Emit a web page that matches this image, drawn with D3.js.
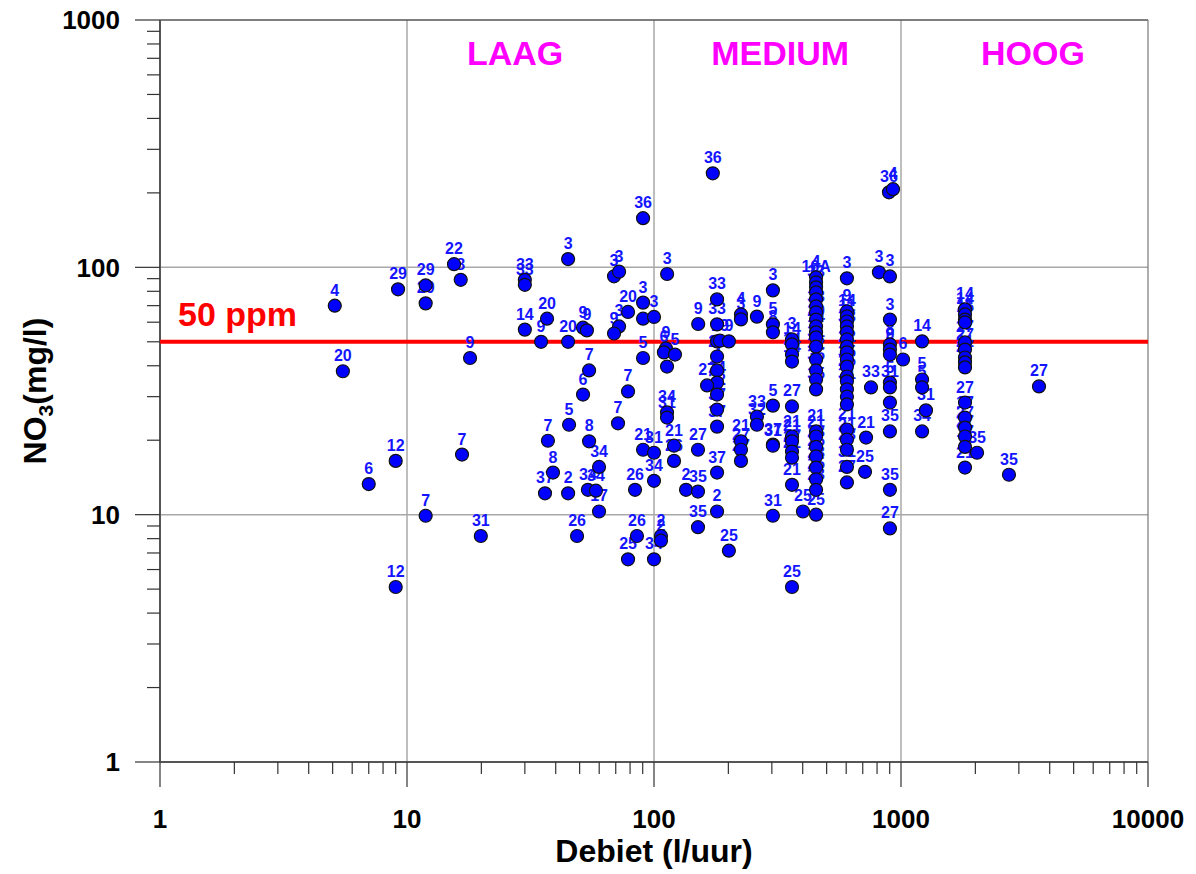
<!DOCTYPE html>
<html>
<head>
<meta charset="utf-8">
<script src="https://cdn.jsdelivr.net/npm/d3@7"></script>
<style>
  html, body { margin: 0; padding: 0; background: #fff; }
  svg { display: block; font-family: "Liberation Sans", Arial, sans-serif; }
</style>
</head>
<body>
<svg id="chart" width="1196" height="874"></svg>
<script>
// Debiet (l/uur) per meting
const debiet = [
  5.1, 5.5, 7.0, 9.0, 9.0, 9.2, 11.9, 11.9, 16.7, 11.9, 19.9, 15.5, 16.5, 18, 30, 30, 30, 34.9, 36.9, 44.9,
  44.9, 51.6, 53.5, 68.9, 72.2, 78.5, 90.3, 90.3, 100, 72.2, 68.9, 90.3, 173, 113, 151, 90.3, 54.6, 111.8, 109.7, 121.6,
  112.9, 51.6, 78.5, 45.3, 71.5, 37.2, 54.6, 59.9, 39.0, 36.2, 44.9, 54.0, 58.2, 59.9, 48.8, 85.3, 83.8, 90.3, 100, 100,
  112.9, 112.9, 120.5, 120.5, 150.7, 134.8, 150.7, 150.7, 106.7, 106.7, 78.5, 100,
  180, 180, 180, 185, 201, 180, 180, 180, 164, 180, 180, 180, 180, 180, 201,
  225, 225, 261, 303, 303, 303, 362, 362, 362, 362, 261, 261, 303, 362, 225, 225, 225, 303, 303,
  362, 362, 362, 362, 362, 303, 401, 362,
  453, 453, 453, 453, 453, 453, 453, 453, 453, 453, 453, 453, 453, 453, 453, 453, 453, 453, 453, 453, 453, 453, 453, 453,
  604, 604, 604, 604, 604, 604, 604, 604, 604, 604, 604, 604, 604, 604, 604, 604, 604, 604, 604, 604, 604,
  756, 722, 715, 814, 894, 928, 902, 902, 902, 902, 902, 902, 902, 902, 902, 902, 902, 1019,
  1217, 1217, 1217, 1262, 1217,
  1816, 1816, 1816, 1816, 1816, 1816, 1816, 1816, 1816, 1816, 1816, 1816, 1816, 1816, 1816,
  2032, 2736, 3620
];

// Nitraatgehalte NO3 (mg/l) per meting
const nitraat = [
  70, 38, 13.3, 16.5, 5.1, 81.5, 84.6, 71.5, 17.5, 9.9, 8.2, 103, 89, 43, 89, 85, 56, 50, 62, 50,
  108, 57, 55.6, 92, 96, 66, 72, 62, 63, 57.7, 54, 158, 240, 94, 59, 43, 38.3, 47, 45.3, 44.4,
  39.7, 30.6, 31.5, 23.1, 23.4, 19.9, 19.8, 15.6, 14.8, 12.2, 12.2, 12.6, 12.5, 10.3, 8.2, 8.2, 12.6, 18.3, 17.8, 13.7,
  25.9, 24.7, 19.0, 16.5, 18.3, 12.6, 12.4, 8.9, 8.2, 7.85, 6.6, 6.6,
  74.2, 58.8, 50.2, 50.5, 50.2, 43.6, 38.3, 34.2, 33.3, 30.6, 26.6, 22.7, 14.8, 10.3, 7.15,
  64.5, 61.6, 63.2, 80.7, 58.8, 54.6, 51.1, 48.8, 44.4, 41.6, 24.9, 23.1, 27.6, 27.4, 19.8, 18.3, 16.5, 19.2, 19.0,
  20.7, 19.8, 18.0, 17.0, 13.2, 9.9, 10.3, 5.1,
  91.1, 86.9, 83, 79.2, 74.2, 69.5, 65.7, 61.5, 57.7, 54.6, 52.1, 47.8, 42.4, 38.3, 35.2, 32.1, 21.7, 20.7, 18.8, 17.2, 15.5, 13.9, 12.6, 10.0,
  90.3, 66.3, 63.3, 60.4, 57.7, 54.6, 51.1, 47.8, 45.3, 42.4, 39.7, 36.2, 34.6, 32.1, 30.0, 27.9, 22.1, 20.1, 18.3, 15.6, 13.5,
  32.7, 20.5, 14.9, 95.5, 201, 207, 91.9, 61.5, 48.8, 46.5, 44.4, 34.2, 32.7, 28.4, 21.7, 12.6, 8.8, 42.4,
  50.2, 35.2, 32.7, 26.4, 21.7,
  67.6, 64.5, 61.5, 59.9, 49.7, 46.5, 43.2, 41.3, 39.4, 28.4, 24.7, 22.5, 20.7, 18.8, 15.5,
  17.8, 14.5, 33.0
];

// Putnummer bij elke meting
const putnummer = [
  "4", "20", "6", "12", "12", "29", "29", "29", "7", "7", "31", "22", "8", "9", "33", "33", "14", "9", "20", "20",
  "3", "9", "9", "3", "3", "20", "3", "3", "3", "3", "9", "36", "36", "3", "9", "5", "7", "9", "6", "5",
  "5", "6", "7", "5", "7", "7", "8", "34", "8", "37", "2", "34", "34", "17", "26", "26", "26", "21", "31", "34",
  "34", "31", "21", "26", "27", "2", "35", "35", "2", "2", "25", "34",
  "33", "33", "6", "19", "9", "28", "4", "24", "27", "32", "37", "37", "37", "2", "25",
  "4", "3", "9", "3", "5", "8", "3", "14", "14", "14", "33", "32", "5", "27", "21", "27", "27", "37", "31",
  "21", "21", "27", "21", "21", "31", "25", "25",
  "4", "16A", "33", "3", "9", "3", "33", "5", "20", "14", "9", "31", "32", "35", "3", "35", "21", "21", "23", "25", "23", "25", "23", "25",
  "3", "9", "14", "11", "2", "33", "9", "1", "22", "2", "35", "25", "3", "31", "1", "5", "21", "21", "23", "31", "27",
  "33", "21", "25", "3", "36", "4", "3", "3", "8", "9", "5", "5", "31", "5", "35", "35", "27", "6",
  "14", "5", "5", "31", "34",
  "14", "14", "11", "15", "27", "27", "21", "27", "2", "27", "17", "27", "27", "17", "21",
  "35", "35", "27"
];

// Debietklassen en het debiet waarboven hun naam staat
const klassen = ["LAAG", "MEDIUM", "HOOG"];
const klasseMidden = [27.4, 324, 3420];

const norm = 50;           // nitraatnorm (mg/l)
const normLabel = "50 ppm";

const xTicks = [1, 10, 100, 1000, 10000];
const yTicks = [1, 10, 100, 1000];

const margin = { left: 160, right: 48, top: 20, bottom: 112 };
const W = 1196, H = 874;

const svg = d3.select("#chart");

const x = d3.scaleLog().domain([1, 10000]).range([margin.left, W - margin.right]);
const y = d3.scaleLog().domain([1, 1000]).range([H - margin.bottom, margin.top]);

const x0 = x.range()[0], x1 = x.range()[1];
const y0 = y.range()[0], y1 = y.range()[1];

const ink = "#333";
const grid = "#a8a8a8";

// Rasterlijnen op de decaden
svg.append("g").selectAll("line.gx")
  .data(xTicks.slice(1, -1)).join("line")
  .attr("x1", d => x(d)).attr("x2", d => x(d))
  .attr("y1", y1).attr("y2", y0)
  .attr("stroke", grid).attr("stroke-width", 1.5);

svg.append("g").selectAll("line.gy")
  .data(yTicks.slice(1, -1)).join("line")
  .attr("x1", x0).attr("x2", x1)
  .attr("y1", d => y(d)).attr("y2", d => y(d))
  .attr("stroke", grid).attr("stroke-width", 1.5);

// Kader
svg.append("line").attr("x1", x0).attr("x2", x1).attr("y1", y1).attr("y2", y1)
  .attr("stroke", "#555").attr("stroke-width", 1.5);
svg.append("line").attr("x1", x1).attr("x2", x1).attr("y1", y1).attr("y2", y0)
  .attr("stroke", "#777").attr("stroke-width", 1.2);

// Tussenliggende tickwaarden (2..9 per decade)
function minors(lo, hi) {
  const out = [];
  for (let p = lo; p < hi; p *= 10) for (let k = 2; k <= 9; k++) out.push(p * k);
  return out;
}

// X-as
const xAxis = svg.append("g").attr("transform", `translate(0,${y0})`);
xAxis.append("line").attr("x1", x0).attr("x2", x1).attr("y1", 0).attr("y2", 0)
  .attr("stroke", "#555").attr("stroke-width", 2);
xAxis.selectAll("line.minor").data(minors(1, 10000)).join("line")
  .attr("x1", d => x(d)).attr("x2", d => x(d)).attr("y1", 0).attr("y2", 12)
  .attr("stroke", ink).attr("stroke-width", 1.2);
xAxis.selectAll("line.major").data(xTicks).join("line")
  .attr("x1", d => x(d)).attr("x2", d => x(d)).attr("y1", 0).attr("y2", 25)
  .attr("stroke", ink).attr("stroke-width", 1.2);
xAxis.selectAll("text").data(xTicks).join("text")
  .attr("x", d => x(d)).attr("y", 66)
  .attr("text-anchor", "middle")
  .attr("font-size", 26).attr("font-weight", "bold").attr("fill", "#000")
  .text(d => d3.format("d")(d));

// Y-as
const yAxis = svg.append("g").attr("transform", `translate(${x0},0)`);
yAxis.append("line").attr("x1", 0).attr("x2", 0).attr("y1", y1).attr("y2", y0)
  .attr("stroke", "#555").attr("stroke-width", 2);
yAxis.selectAll("line.minor").data(minors(1, 1000)).join("line")
  .attr("x1", -13).attr("x2", 0).attr("y1", d => y(d)).attr("y2", d => y(d))
  .attr("stroke", ink).attr("stroke-width", 1.2);
yAxis.selectAll("line.major").data(yTicks).join("line")
  .attr("x1", -25).attr("x2", 0).attr("y1", d => y(d)).attr("y2", d => y(d))
  .attr("stroke", ink).attr("stroke-width", 1.2);
yAxis.selectAll("text").data(yTicks).join("text")
  .attr("x", -40).attr("y", d => y(d)).attr("dy", "0.36em")
  .attr("text-anchor", "end")
  .attr("font-size", 26).attr("font-weight", "bold").attr("fill", "#000")
  .text(d => d3.format("d")(d));

// Astitels
svg.append("text")
  .attr("x", (x0 + x1) / 2).attr("y", 862)
  .attr("text-anchor", "middle")
  .attr("font-size", 32).attr("font-weight", "bold")
  .text("Debiet (l/uur)");

const yTitle = svg.append("text")
  .attr("transform", `translate(46,${(y0 + y1) / 2}) rotate(-90)`)
  .attr("text-anchor", "middle")
  .attr("font-size", 32).attr("font-weight", "bold");
yTitle.append("tspan").text("NO");
yTitle.append("tspan").attr("font-size", 21).attr("dy", 7).text("3");
yTitle.append("tspan").attr("dy", -7).text("(mg/l)");

// Debietklassen
svg.append("g").selectAll("text").data(klassen).join("text")
  .attr("x", (d, i) => x(klasseMidden[i]))
  .attr("y", 65)
  .attr("text-anchor", "middle")
  .attr("font-size", 34).attr("font-weight", "bold").attr("fill", "#ff00ff")
  .text(d => d);

// Nitraatnorm
svg.append("line")
  .attr("x1", x0).attr("x2", x1).attr("y1", y(norm)).attr("y2", y(norm))
  .attr("stroke", "#ff0000").attr("stroke-width", 4);
svg.append("text")
  .attr("x", 178).attr("y", y(norm) - 16)
  .attr("font-size", 34).attr("font-weight", "bold").attr("fill", "#ff0000")
  .text(normLabel);

// Meetpunten met putnummer
const data = debiet.map((d, i) => ({ q: d, no3: nitraat[i], put: putnummer[i] }));

svg.append("g").selectAll("text").data(data).join("text")
  .attr("x", d => x(d.q)).attr("y", d => y(d.no3) - 10)
  .attr("text-anchor", "middle")
  .attr("font-size", 16).attr("font-weight", "bold").attr("fill", "#1414ff")
  .text(d => d.put);

svg.append("g").selectAll("circle").data(data).join("circle")
  .attr("cx", d => x(d.q)).attr("cy", d => y(d.no3))
  .attr("r", 6.5)
  .attr("fill", "#0000ff").attr("stroke", "#111").attr("stroke-width", 1.2);
</script>
</body>
</html>
